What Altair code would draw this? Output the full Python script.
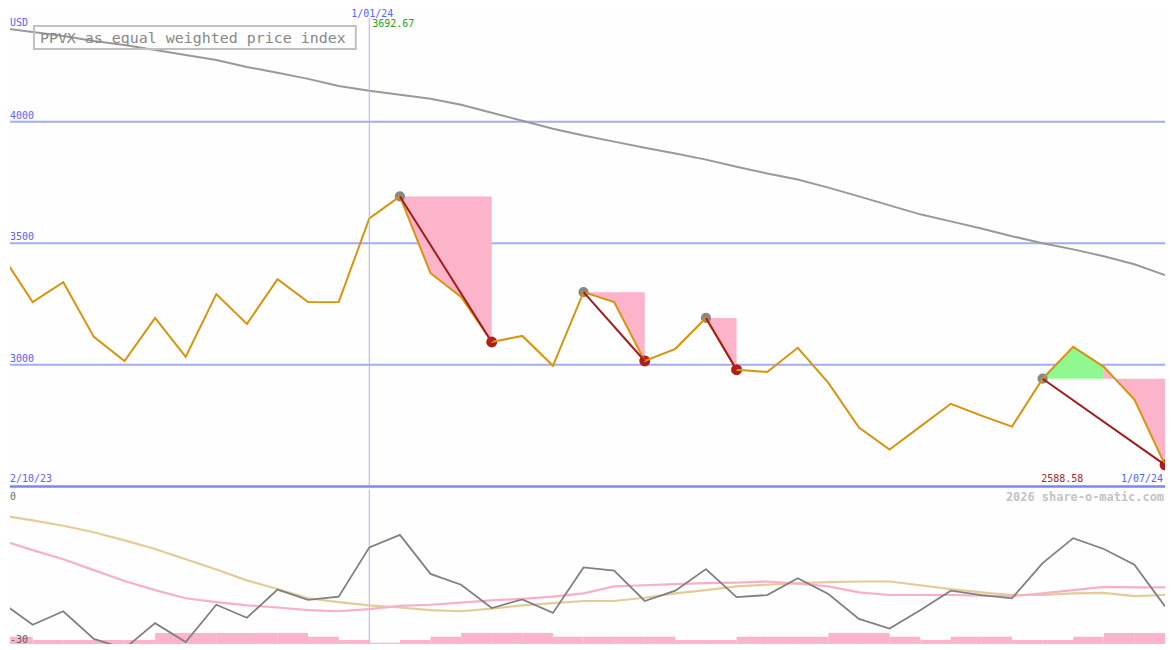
import altair as alt
import pandas as pd

# ---------------- data ----------------
price = [3451, 3258, 3340, 3115, 3016, 3193, 3033, 3291, 3168, 3352,
         3258, 3258, 3602, 3692.67, 3377, 3279, 3094, 3119, 2996, 3299,
         3258, 3016, 3066, 3193, 2980, 2971, 3070, 2926, 2742, 2652,
         2746, 2840, 2791, 2746, 2943, 3074, 2992, 2857, 2588.58]
ma = [4385, 4369, 4352, 4332, 4315, 4295, 4274, 4254, 4225, 4201,
      4176, 4147, 4127, 4111, 4094, 4070, 4037, 4004, 3971, 3943,
      3918, 3893, 3869, 3844, 3815, 3787, 3762, 3729, 3693, 3656,
      3619, 3590, 3561, 3529, 3500, 3475, 3447, 3414, 3369]
osc = [-20.9, -25.0, -22.5, -27.6, -29.4, -24.7, -28.2, -21.3, -23.7, -18.5,
       -20.4, -19.8, -10.7, -8.4, -15.6, -17.6, -21.9, -20.3, -22.8, -14.4,
       -15.0, -20.6, -18.7, -14.7, -19.9, -19.5, -16.4, -19.3, -23.9, -25.7,
       -22.3, -18.7, -19.5, -20.1, -13.6, -9.0, -11.0, -13.9, -21.6]
sig_tan = [-4.8, -5.7, -6.7, -7.9, -9.4, -11.0, -12.9, -14.8, -16.8, -18.4,
           -20.1, -20.8, -21.4, -21.8, -22.3, -22.5, -22.0, -21.4, -21.0, -20.6,
           -20.6, -20.0, -19.2, -18.6, -17.9, -17.6, -17.3, -17.1, -17.0, -17.0,
           -17.7, -18.4, -19.0, -19.5, -19.5, -19.2, -19.1, -19.7, -19.5]
sig_pink = [-9.4, -11.2, -12.9, -14.9, -16.9, -18.6, -20.1, -20.8, -21.4, -21.8,
            -22.3, -22.5, -22.1, -21.5, -21.3, -20.9, -20.5, -20.2, -19.8, -19.2,
            -17.9, -17.7, -17.5, -17.3, -17.2, -17.0, -17.4, -17.9, -19.0, -19.5,
            -19.5, -19.5, -19.6, -19.7, -19.2, -18.6, -18.0, -18.1, -18.1]
bar_levels = [-27.2, -27.8, -27.8, -27.8, -27.8, -26.5, -26.5, -26.5, -26.5, -26.5,
              -27.2, -27.8, -28.3, -27.8, -27.2, -26.5, -26.5, -26.5, -27.2, -27.2,
              -27.2, -27.2, -27.8, -27.8, -27.2, -27.2, -27.2, -26.5, -26.5, -27.2,
              -27.8, -27.2, -27.2, -27.8, -27.8, -27.2, -26.5, -26.5]
grid_levels = [3000, 3500, 4000]
base_level = 2500
peak_idx = [13, 19, 23, 34]
trough_idx = [16, 21, 24, 38]
marker_idx = 12
marker_label = "1/01/24"
start_label = "2/10/23"
end_label = "1/07/24"
title_text = "PPVX as equal weighted price index"
unit_label = "USD"
osc_top_label = "0"
osc_bot_label = "-30"
credit = "2026 share-o-matic.com"

# ---------------- layout ----------------
W = 1159
H_TOP = 479
H_BOT = 155
BOT_MIN = -30 * H_BOT / 163.0
FONT = "DejaVu Sans Mono"
BLUE = "#5b63f0"
PINK = "#fbb4c9"
GREEN = "#90f890"

xs = alt.Scale(domain=[0.259, 38.0], nice=False, zero=False)
ys = alt.Scale(domain=[2500, 4463], nice=False, zero=False)
yb = alt.Scale(domain=[BOT_MIN, 0], nice=False, zero=False)

idx = list(range(len(price)))
df = pd.DataFrame({"i": idx, "price": price, "ma": ma, "osc": osc,
                   "tan": sig_tan, "pink": sig_pink})

rows = []
for n, (p, t) in enumerate(zip(peak_idx, trough_idx)):
    pk = price[p]
    above = [j for j in range(p + 1, t + 1) if price[j] > pk]
    if above:
        j = above[-1]
        parts = [(p, j, GREEN), (j, t, PINK)]
    else:
        parts = [(p, t, PINK)]
    for m, (a, b, c) in enumerate(parts):
        for k in range(a, b + 1):
            rows.append({"seg": f"{n}-{m}", "i": k, "price": price[k], "peak": pk, "fill": c})
area_df = pd.DataFrame(rows)

dd = pd.DataFrame({"pi": peak_idx, "ti": trough_idx,
                   "pv": [price[p] for p in peak_idx],
                   "tv": [price[t] for t in trough_idx]})
grid_df = pd.DataFrame({"v": grid_levels, "lab": [str(g) for g in grid_levels]})
base_df = pd.DataFrame({"v": [base_level]})
mk_df = pd.DataFrame({"i": [marker_idx], "lab": [marker_label],
                      "mx": [f"{max(price):.2f}"]})
bars_df = pd.DataFrame({"k": list(range(len(bar_levels))),
                        "k1": [k + 1 for k in range(len(bar_levels))],
                        "level": bar_levels, "base": [BOT_MIN] * len(bar_levels)})
txt_df = pd.DataFrame({"t": [title_text]})

X = alt.X("i:Q", scale=xs, axis=None)

grid = alt.Chart(grid_df).mark_rule(color="#a4acf4", strokeWidth=2).encode(
    y=alt.Y("v:Q", scale=ys, axis=None))
grid_lab = alt.Chart(grid_df).mark_text(align="left", baseline="alphabetic", dy=-3,
                                         font=FONT, fontSize=10, color=BLUE).encode(
    x=alt.value(0), y=alt.Y("v:Q", scale=ys, axis=None), text="lab:N")
base = alt.Chart(base_df).mark_rule(color="#7b86f2", strokeWidth=2.5).encode(
    y=alt.Y("v:Q", scale=ys, axis=None))
ma_line = alt.Chart(df).mark_line(color="#999999", strokeWidth=2, clip=True).encode(
    x=X, y=alt.Y("ma:Q", scale=ys, axis=None))
areas = alt.Chart(area_df).mark_area(clip=True, opacity=1).encode(
    x=X, y=alt.Y("price:Q", scale=ys, axis=None, stack=None), y2="peak:Q",
    color=alt.Color("fill:N", scale=None), detail="seg:N")
peak_dots = alt.Chart(dd).mark_circle(size=105, color="#888888", opacity=1, clip=True).encode(
    x=alt.X("pi:Q", scale=xs, axis=None), y=alt.Y("pv:Q", scale=ys, axis=None))
trough_dots = alt.Chart(dd).mark_circle(size=120, color="#b01c1c", opacity=1, clip=True).encode(
    x=alt.X("ti:Q", scale=xs, axis=None), y=alt.Y("tv:Q", scale=ys, axis=None))
price_line = alt.Chart(df).mark_line(color="#d8940c", strokeWidth=2, clip=True).encode(
    x=X, y=alt.Y("price:Q", scale=ys, axis=None))
dd_lines = alt.Chart(dd).mark_rule(color="#a01c1c", strokeWidth=2, clip=True).encode(
    x=alt.X("pi:Q", scale=xs, axis=None), x2="ti:Q",
    y=alt.Y("pv:Q", scale=ys, axis=None), y2="tv:Q")
vrule_top = alt.Chart(mk_df).mark_rule(color="#a8b4ff", strokeWidth=1).encode(
    x=X, y=alt.value(9), y2=alt.value(H_TOP))
mk_lab = alt.Chart(mk_df).mark_text(align="center", baseline="top", dx=3, font=FONT,
                                     fontSize=10, color=BLUE).encode(
    x=X, y=alt.value(0), text="lab:N")
mx_lab = alt.Chart(mk_df).mark_text(align="left", baseline="top", dx=3, font=FONT,
                                     fontSize=10, color="#22a022").encode(
    x=X, y=alt.value(10), text="mx:N")
usd = alt.Chart(txt_df).mark_text(align="left", baseline="alphabetic", font=FONT,
                                   fontSize=10, color=BLUE, text=unit_label).encode(
    x=alt.value(0), y=alt.value(17))
box = alt.Chart(txt_df).mark_rect(fillOpacity=0, stroke="#c0c0c0", strokeWidth=2).encode(
    x=alt.value(24), x2=alt.value(347), y=alt.value(17), y2=alt.value(40))
title = alt.Chart(txt_df).mark_text(align="left", baseline="middle", font=FONT,
                                     fontSize=15, color="#888888").encode(
    x=alt.value(30), y=alt.value(29), text="t:N")
lab_start = alt.Chart(txt_df).mark_text(align="left", baseline="alphabetic", font=FONT,
                                         fontSize=10, color=BLUE, text=start_label).encode(
    x=alt.value(0), y=alt.value(H_TOP - 4))
lab_end = alt.Chart(txt_df).mark_text(align="right", baseline="alphabetic", font=FONT,
                                       fontSize=10, color=BLUE, text=end_label).encode(
    x=alt.value(W - 2), y=alt.value(H_TOP - 4))
lab_min = alt.Chart(txt_df).mark_text(align="right", baseline="alphabetic", font=FONT,
                                       fontSize=10, color="#a52a2a",
                                       text=f"{min(price):.2f}").encode(
    x=alt.value(1077), y=alt.value(H_TOP - 4))

top = alt.layer(grid, base, ma_line, areas, peak_dots, trough_dots, price_line, dd_lines,
                vrule_top, grid_lab, mk_lab, mx_lab, usd, box, title,
                lab_start, lab_end, lab_min).properties(width=W, height=H_TOP)

vrule_bot = alt.Chart(mk_df).mark_rule(color="#a8b4ff", strokeWidth=1).encode(
    x=X, y=alt.value(0), y2=alt.value(H_BOT))
bars = alt.Chart(bars_df).mark_rect(color=PINK, clip=True).encode(
    x=alt.X("k:Q", scale=xs, axis=None), x2="k1:Q",
    y=alt.Y("level:Q", scale=yb, axis=None), y2="base:Q")
tan_line = alt.Chart(df).mark_line(color="#e3cc98", strokeWidth=2.2, clip=True).encode(
    x=X, y=alt.Y("tan:Q", scale=yb, axis=None))
pink_line = alt.Chart(df).mark_line(color="#f8b0c8", strokeWidth=2.2, clip=True).encode(
    x=X, y=alt.Y("pink:Q", scale=yb, axis=None))
osc_line = alt.Chart(df).mark_line(color="#808080", strokeWidth=1.8, clip=True).encode(
    x=X, y=alt.Y("osc:Q", scale=yb, axis=None))
lab0 = alt.Chart(txt_df).mark_text(align="left", baseline="top", font=FONT, fontSize=10,
                                    color="#707070", text=osc_top_label).encode(
    x=alt.value(0), y=alt.value(3))
lab30 = alt.Chart(txt_df).mark_text(align="left", baseline="alphabetic", font=FONT,
                                     fontSize=10, color="#606060", text=osc_bot_label).encode(
    x=alt.value(0), y=alt.value(H_BOT - 1))
credit_t = alt.Chart(txt_df).mark_text(align="right", baseline="top", font=FONT, fontSize=12,
                                        fontWeight="bold", color="#c4c4c4", text=credit).encode(
    x=alt.value(W - 1), y=alt.value(3))

bottom = alt.layer(vrule_bot, bars, tan_line, pink_line, osc_line, lab0, lab30,
                   credit_t).properties(width=W, height=H_BOT)

chart = alt.vconcat(top, bottom, spacing=0).properties(
    padding=0, background="#fdfefd").configure_view(strokeWidth=0)

chart.save("out.html", embed_options={"renderer": "svg", "actions": False})
